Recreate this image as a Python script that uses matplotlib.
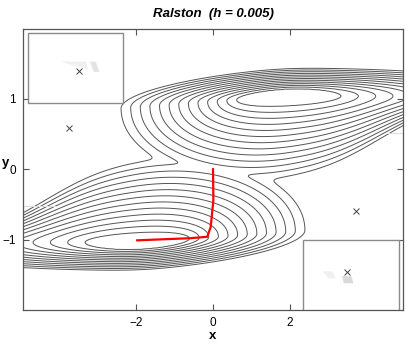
import numpy as np
import matplotlib.pyplot as plt
from matplotlib.patches import Rectangle, Polygon

plt.rcParams["font.family"] = ["Liberation Sans", "DejaVu Sans"]

# lower well (the upper one is its mirror through the origin)
well_cx, well_cy = -1.97, -1.04
ring_right = (1.36, 0.25)    # size of first ring, growth per ring
ring_left = (1.36, 0.45)
ring_top = (0.13, 0.083)
ring_bottom = (0.11, 0.024)
levels = np.arange(1, 14)

# red trajectory
path_x = [0.0, 0.01, -0.06, -0.15, -0.6, -1.97]
path_y = [0.0, -0.44, -0.82, -0.96, -0.98, -1.01]

# x markers
marks_x = [-3.48, -3.74, 3.71, 3.48]
marks_y = [1.40, 0.59, -0.60, -1.46]

# boxes (x0, y0, w, h)
boxes = [(-4.81, 0.94, 2.47, 1.0), (2.34, -2.0, 2.49, 1.0)]


def rad(n, p):
    r1, dr = p
    return np.where(n < 1, n * r1, r1 + dr * (n - 1))


def ring_index(x, y):
    u = x - well_cx
    w = y - well_cy - 0.04 * np.logaddexp(0, 3 * u) / 3
    top_f = (1 + np.tanh((u + 2.5) / 2)) / (1 + np.tanh(1.25))
    lo = np.zeros_like(u)
    hi = np.full_like(u, 60.0)
    for _ in range(50):
        mid = (lo + hi) / 2
        X = np.where(u > 0, rad(mid, ring_right), rad(mid, ring_left))
        Y = np.where(w > 0, rad(mid, ring_top) * top_f, rad(mid, ring_bottom))
        g = (u / X) ** 2 + (w / Y) ** 2
        out = g > 1
        lo = np.where(out, mid, lo)
        hi = np.where(out, hi, mid)
    return (lo + hi) / 2


xs = np.linspace(-5, 5, 600)
ys = np.linspace(-2, 2, 400)
X, Y = np.meshgrid(xs, ys)
f1 = ring_index(X, Y)
f2 = ring_index(-X, -Y)
s = 0.45
F = -s * np.logaddexp(-f1 / s, -f2 / s)

fig = plt.figure(figsize=(4.07, 3.45), dpi=100)
ax = fig.add_axes([23 / 407, 35 / 345, 380 / 407, 281.5 / 345])

ax.contour(X, Y, F, levels=levels, colors="#555555", linewidths=0.7)
ax.plot(path_x, path_y, color="red", lw=1.6, zorder=4)

# faint rendering leftovers seen in the original
ax.plot([-4.94, -4.1], [-0.52, -0.52], color="#dddddd", lw=0.8)
ax.plot([4.55, 4.94], [0.52, 0.52], color="#dddddd", lw=0.8)

for bx, by, bw, bh in boxes:
    ax.add_patch(Rectangle((bx, by), bw, bh, facecolor="white",
                           edgecolor="#8a8a8a", lw=1.0, zorder=3))
ax.add_patch(Polygon([(-3.95, 1.53), (-3.3, 1.53), (-3.25, 1.42), (-3.6, 1.47)],
                     facecolor="#f0f0f0", edgecolor="none", zorder=3.5))
ax.add_patch(Polygon([(-3.2, 1.53), (-3.05, 1.53), (-2.95, 1.38), (-3.1, 1.38)],
                     facecolor="#e4e4e4", edgecolor="none", zorder=3.5))
ax.add_patch(Polygon([(3.35, -1.52), (3.6, -1.52), (3.65, -1.62), (3.4, -1.62)],
                     facecolor="#dadada", edgecolor="none", zorder=3.5))
ax.add_patch(Polygon([(2.85, -1.45), (3.1, -1.45), (3.2, -1.55), (3.0, -1.55)],
                     facecolor="#f0f0f0", edgecolor="none", zorder=3.5))

ax.plot(marks_x, marks_y, "x", color="#444444", ms=5, mew=0.7, zorder=5)

ax.set_xlim(-4.94, 4.94)
ax.set_ylim(-2, 2)
ax.set_xticks([-2, 0, 2])
ax.set_yticks([-1, 0, 1])
ax.tick_params(direction="in", length=4, width=0.8, color="#555555",
               top=True, right=True, labelsize=8.5, pad=5)
for sp in ax.spines.values():
    sp.set_color("#555555")
    sp.set_linewidth(0.9)

ax.set_title("Ralston  (h = 0.005)", fontsize=9.5, fontweight="bold",
             fontstyle="italic", pad=8)
ax.set_xlabel("x", fontsize=9.5, fontweight="bold", labelpad=1)
ax.set_ylabel("y", fontsize=9.5, fontweight="bold", rotation=0)
ax.yaxis.set_label_coords(-0.045, 0.5)

fig.savefig("out.png", dpi=100)
